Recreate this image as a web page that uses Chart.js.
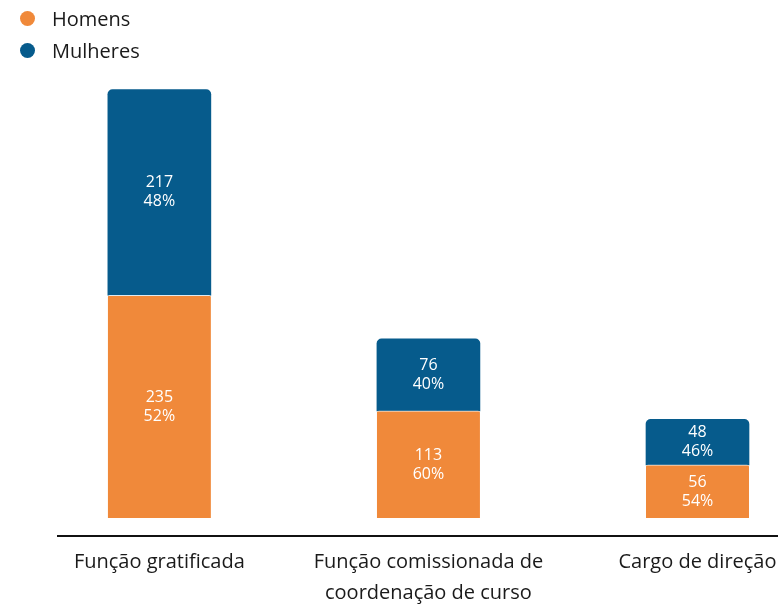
<!DOCTYPE html>
<html><head><meta charset="utf-8">
<script src="https://cdn.jsdelivr.net/npm/chart.js@4"></script>
<style>
html,body{margin:0;padding:0;background:#fff}
#wrap{width:778px;height:604px;position:relative}
#legend{position:absolute;left:20px;top:2px;font-family:"Open Sans",sans-serif;font-size:20px;color:#1a1a1a}
#legend .item{display:flex;align-items:center;height:32px;white-space:nowrap}
#legend .dot{display:inline-block;width:15px;height:15px;border-radius:50%;margin-right:17px}
</style>
</head><body><div id="wrap"><canvas id="c"></canvas><div id="legend"></div></div>
<script>
const categories = [['Função gratificada'], ['Função comissionada de', 'coordenação de curso'], ['Cargo de direção']];
const categoryIndex = [0, 1, 2];
const seriesNames = ['Homens', 'Mulheres'];
const homens = [235, 113, 56];
const mulheres = [217, 76, 48];
const homensPct = ['52%', '60%', '54%'];
const mulheresPct = ['48%', '40%', '46%'];

const ORANGE = '#F0893A';
const BLUE = '#065B8C';
const FONT = '"Open Sans", sans-serif';
const TEXT = '#1a1a1a';

const valueLabels = {
  id: 'valueLabels',
  afterDatasetsDraw(chart) {
    const ctx = chart.ctx;
    ctx.save();
    ctx.fillStyle = '#ffffff';
    ctx.font = '16px ' + FONT;
    ctx.textAlign = 'center';
    ctx.textBaseline = 'middle';
    chart.data.datasets.forEach((ds, di) => {
      const meta = chart.getDatasetMeta(di);
      meta.data.forEach((bar, i) => {
        const p = bar.getProps(['x', 'y', 'base'], true);
        const cy = (p.y + p.base) / 2;
        ctx.fillText(String(ds.data[i].y), p.x, cy - 9.5);
        ctx.fillText(ds.pctLabels[i], p.x, cy + 9.5);
      });
    });
    ctx.restore();
  }
};

const htmlLegend = {
  id: 'htmlLegend',
  afterUpdate(chart) {
    const box = document.getElementById('legend');
    box.innerHTML = '';
    Chart.defaults.plugins.legend.labels.generateLabels(chart).forEach(item => {
      const row = document.createElement('div');
      row.className = 'item';
      const dot = document.createElement('span');
      dot.className = 'dot';
      dot.style.background = item.fillStyle;
      const txt = document.createElement('span');
      txt.textContent = item.text;
      row.append(dot, txt);
      box.append(row);
    });
  }
};

new Chart(document.getElementById('c'), {
  type: 'bar',
  data: {
    datasets: [
      {
        label: seriesNames[0],
        data: categoryIndex.map((c, i) => ({x: c, y: homens[i]})),
        pctLabels: homensPct,
        backgroundColor: ORANGE,
        borderColor: 'rgba(255,255,255,0.75)',
        borderWidth: {top: 1, left: 0, right: 0, bottom: 0},
        borderSkipped: false,
        borderRadius: {topLeft: 2, topRight: 2, bottomLeft: 0, bottomRight: 0}
      },
      {
        label: seriesNames[1],
        data: categoryIndex.map((c, i) => ({x: c, y: mulheres[i]})),
        pctLabels: mulheresPct,
        backgroundColor: BLUE,
        borderWidth: 0,
        borderRadius: {topLeft: 5, topRight: 5, bottomLeft: 0, bottomRight: 0}
      }
    ]
  },
  options: {
    responsive: true,
    maintainAspectRatio: false,
    animation: false,
    devicePixelRatio: 1,
    barThickness: 103,
    layout: {autoPadding: false, padding: {left: 58, top: 0, right: 0, bottom: -16}},
    scales: {
      x: {
        type: 'linear',
        stacked: true,
        offset: false,
        bounds: 'data',
        min: -0.3767,
        max: 2.2992,
        grid: {display: false, drawTicks: false},
        border: {display: true, color: '#111111', width: 2},
        afterBuildTicks: (s) => { s.ticks = categoryIndex.map(v => ({value: v})); },
        afterFit: (s) => { s.paddingLeft = 0; s.paddingRight = 0; },
        ticks: {
          autoSkip: false,
          includeBounds: false,
          maxRotation: 0,
          padding: 11,
          color: TEXT,
          font: {family: FONT, size: 20, lineHeight: 1.55},
          callback: (v) => categories[v]
        }
      },
      y: {
        display: false,
        stacked: true,
        offset: false,
        min: -19,
        max: 546.5
      }
    },
    plugins: {
      tooltip: {enabled: false},
      legend: {display: false}
    }
  },
  plugins: [valueLabels, htmlLegend]
});
</script>
</body></html>
